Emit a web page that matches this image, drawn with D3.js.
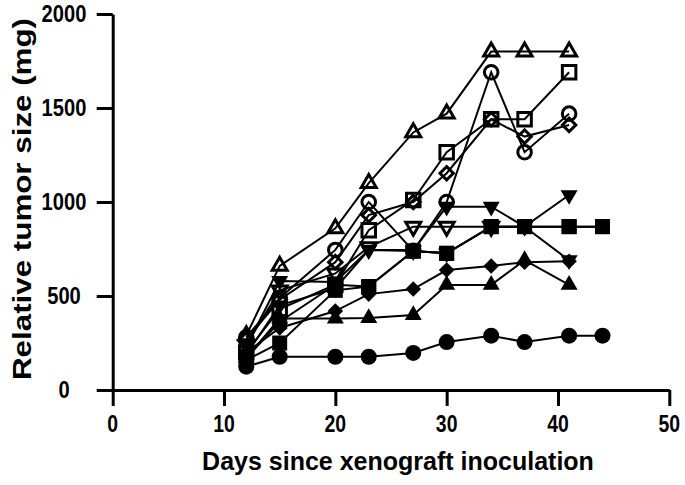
<!DOCTYPE html>
<html><head><meta charset="utf-8">
<script src="https://cdn.jsdelivr.net/npm/d3@7"></script>
<style>
html,body{margin:0;padding:0;background:#fff;}
svg{display:block;}
text{font-family:"Liberation Sans",Arial,sans-serif;font-weight:bold;fill:#000;}
</style></head>
<body>
<script>
// ---- data ----
const days = [12, 15, 20, 23, 27, 30, 34, 37, 41, 44];
const xTicks = [0, 10, 20, 30, 40, 50];
const yTicks = [0, 500, 1000, 1500, 2000];
const xTitle = "Days since xenograft inoculation";
const yTitle = "Relative tumor size (mg)";

const openTriangle = [290, 660, 860, 1100, 1370, 1470, 1800, 1800, 1800, null];
const openCircle   = [280, 490, 745, 1000, 740, 1000, 1690, 1265, 1470, null];
const openSquare   = [200, 430, 560, 850, 1010, 1265, 1440, 1440, 1690, null];
const openDiamond  = [270, 480, 680, 930, 1000, 1153, 1440, 1348, 1410, null];
const openDownTri  = [240, 530, 620, 760, 869, 869, 869, null, null, null];
const filledDownA  = [230, 580, 575, 745, 745, 975, 975, 869, 1037, null];
const filledDownB  = [190, 450, 540, 745, 739, 727, 869, 869, 690, null];
const filledSquareA= [170, 363, 560, 550, 739, 727, 869, 869, 869, 869];
const filledSquareB= [160, 250, 530, 550, 739, 727, 869, 869, 869, 869];
const filledDiamond= [200, 330, 420, 510, 537, 638, 660, 680, 685, null];
const filledTri    = [170, 380, 380, 383, 399, 559, 559, 691, 559, null];
const filledCircle = [124, 177, 177, 177, 197, 255, 289, 255, 289, 289];

const series = [
  {name:"openTriangle", values:openTriangle, shape:"triangle", filled:false},
  {name:"openCircle", values:openCircle, shape:"circle", filled:false},
  {name:"openSquare", values:openSquare, shape:"square", filled:false},
  {name:"openDiamond", values:openDiamond, shape:"diamond", filled:false},
  {name:"openDownTri", values:openDownTri, shape:"down", filled:false},
  {name:"filledDownA", values:filledDownA, shape:"down", filled:true},
  {name:"filledDownB", values:filledDownB, shape:"down", filled:true},
  {name:"filledSquareA", values:filledSquareA, shape:"square", filled:true},
  {name:"filledSquareB", values:filledSquareB, shape:"square", filled:true},
  {name:"filledDiamond", values:filledDiamond, shape:"diamond", filled:true},
  {name:"filledTri", values:filledTri, shape:"triangle", filled:true},
  {name:"filledCircle", values:filledCircle, shape:"circle", filled:true}
];

// ---- layout ----
const W = 685, H = 485;
const svg = d3.select("body").append("svg").attr("width", W).attr("height", H);
const x = d3.scaleLinear().domain([0, 50]).range([112.7, 669.3]);
const y = d3.scaleLinear().domain([0, 2000]).range([390, 14]);

// axes
const tickFont = 23;
const yAxis = svg.append("g").attr("transform", `translate(${x(0)},0)`)
  .call(d3.axisLeft(y).tickValues(yTicks).tickSize(16).tickSizeOuter(0).tickFormat(d3.format("d")));
yAxis.selectAll("path,line").attr("stroke", "#000").attr("stroke-width", 3);
yAxis.selectAll("text").remove();
const xAxis = svg.append("g").attr("transform", `translate(0,${y(0)})`)
  .call(d3.axisBottom(x).tickValues(xTicks).tickSize(16).tickSizeOuter(0).tickFormat(d3.format("d")));
xAxis.selectAll("path,line").attr("stroke", "#000").attr("stroke-width", 3);
xAxis.selectAll("text").remove();

svg.append("g").selectAll("text").data(yTicks).join("text")
  .attr("x", 64).attr("y", d => y(d)).attr("dy", "0.36em")
  .attr("text-anchor", "middle").style("font-size", tickFont + "px")
  .attr("textLength", d => String(d).length * 11.2).attr("lengthAdjust", "spacingAndGlyphs")
  .text(d => d);
svg.append("g").selectAll("text").data(xTicks).join("text")
  .attr("x", d => x(d)).attr("y", 431.5)
  .attr("text-anchor", "middle").style("font-size", tickFont + "px")
  .attr("textLength", d => String(d).length * 10.8).attr("lengthAdjust", "spacingAndGlyphs")
  .text(d => d);

svg.append("text").attr("x", 398).attr("y", 470).attr("text-anchor", "middle")
  .style("font-size", "25px").text(xTitle);
svg.append("text").attr("transform", "translate(31,199) rotate(-90)").attr("text-anchor", "middle")
  .style("font-size", "25px").attr("textLength", 362).attr("lengthAdjust", "spacingAndGlyphs")
  .text(yTitle);

// lines
const line = d3.line().defined(d => d.v != null).x(d => x(d.d)).y(d => y(d.v));
series.forEach(s => {
  const pts = days.map((d, i) => ({d, v: s.values[i]}));
  svg.append("path").datum(pts).attr("d", line).attr("fill", "none")
    .attr("stroke", "#000").attr("stroke-width", 2);
});

// markers
function symFor(shape, filled) {
  if (shape === "circle") return d3.symbol(d3.symbolCircle, Math.PI * Math.pow(filled ? 8 : 6.8, 2));
  if (shape === "square") return d3.symbol(d3.symbolSquare, Math.pow(filled ? 15 : 13.5, 2));
  if (shape === "diamond") return d3.symbol(d3.symbolSquare, Math.pow(filled ? 11 : 9.5, 2));
  return d3.symbol(d3.symbolTriangle, Math.sqrt(3) / 4 * Math.pow(filled ? 17 : 15, 2));
}
const order = series.filter(s => !s.filled).concat(series.filter(s => s.filled));
order.forEach(s => {
  const pts = days.map((d, i) => ({d, v: s.values[i]})).filter(p => p.v != null);
  const rot = s.shape === "diamond" ? 45 : (s.shape === "down" ? 180 : 0);
  svg.append("g").selectAll("path").data(pts).join("path")
    .attr("transform", p => `translate(${x(p.d)},${y(p.v)}) rotate(${rot})`)
    .attr("d", symFor(s.shape, s.filled)())
    .attr("fill", s.filled ? "#000" : "none")
    .attr("stroke", "#000")
    .attr("stroke-width", s.filled ? 0 : 3);
});
</script>
</body></html>
